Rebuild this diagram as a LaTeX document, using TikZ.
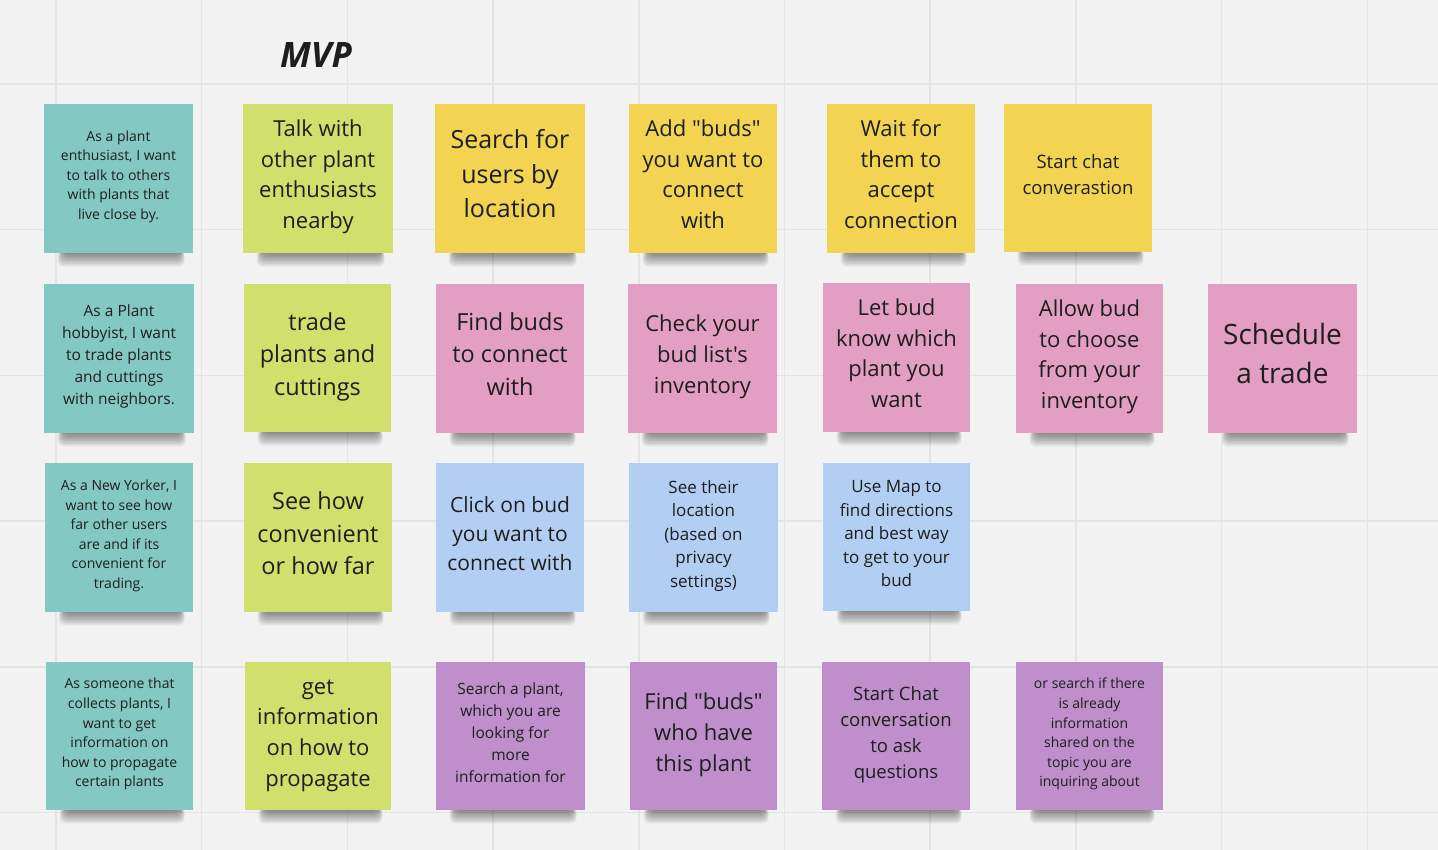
\documentclass[tikz,border=0pt]{standalone}
\usepackage{fontspec}
\setmainfont{Open Sans}
\newfontfamily\osans{Open Sans}
\definecolor{bg}{HTML}{F2F2F2}
\definecolor{gridc}{HTML}{E4E4E4}
\definecolor{ink}{HTML}{1E1E1E}
\definecolor{cteal}{HTML}{84C8C3}
\definecolor{clime}{HTML}{D1E06C}
\definecolor{cyel}{HTML}{F2D452}
\definecolor{cpink}{HTML}{E39FC3}
\definecolor{cblue}{HTML}{B2CEF2}
\definecolor{cpurp}{HTML}{BE8FCB}
\tikzset{
  notebox/.style={rectangle, inner sep=0pt, draw=none},
  notetext/.style={inner sep=0pt, align=center, text=ink},
  gridline/.style={draw=gridc, line width=1.5pt},
  shadowlayer/.style={fill=black, opacity=0.05, rounded corners=6pt}
}
% name, left, top, width, height, colour, size, leading, text
\newcommand\sticky[9]{%
  \foreach \i in {0,...,9} {
    \fill[shadowlayer] ({#2+20-\i*0.7},{#3+#5-4}) rectangle ({#2+#4-13+\i*0.5},{#3+#5+1+\i*1.4});
  }
  \node[notebox, fill=#6, minimum width=#4pt, minimum height=#5pt] (#1) at ({#2+#4/2},{#3+#5/2}) {};
  \node[notetext, font=\osans\fontsize{#7}{#8}\selectfont] (#1txt) at ([yshift=2pt]#1.center) {\strut #9\strut};%
}
\begin{document}
\begin{tikzpicture}[x=1pt, y=-1pt]
\fill[bg] (0,0) rectangle (1438,850);
\useasboundingbox (0,0) rectangle (1438,850);
\foreach \k in {0,...,9} { \draw[gridline] ({56+145.7*\k},0) -- ({56+145.7*\k},850); }
\foreach \k in {0,...,5} { \draw[gridline] (0,{84+145.7*\k}) -- (1438,{84+145.7*\k}); }

\node[text=ink, font=\osans\fontsize{35}{40}\selectfont\bfseries\itshape] (mvp) at (316,55) {MVP};

% Row 1
\sticky{t1}{44}{104}{149}{149}{cteal}{14}{19.5}{As a plant\\enthusiast, I want\\to talk to others\\with plants that\\live close by.}
\sticky{l1}{243}{104}{150}{149}{clime}{22}{30.7}{Talk with\\other plant\\enthusiasts\\nearby}
\sticky{y1}{435}{104}{150}{149}{cyel}{25}{34.5}{Search for\\users by\\location}
\sticky{y2}{629}{104}{148}{149}{cyel}{22}{30.7}{Add "buds"\\you want to\\connect\\with}
\sticky{y3}{827}{104}{148}{149}{cyel}{22}{30.7}{Wait for\\them to\\accept\\connection}
\sticky{y4}{1004}{104}{148}{148}{cyel}{18.5}{26}{Start chat\\converastion}

% Row 2
\sticky{t2}{44}{284}{150}{149}{cteal}{15.5}{22}{As a Plant\\hobbyist, I want\\to trade plants\\and cuttings\\with neighbors.}
\sticky{l2}{244}{284}{147}{148}{clime}{23.5}{32.5}{trade\\plants and\\cuttings}
\sticky{p1}{436}{284}{148}{149}{cpink}{23.5}{32.5}{Find buds\\to connect\\with}
\sticky{p2}{628}{284}{149}{149}{cpink}{22}{31}{Check your\\bud list's\\inventory}
\sticky{p3}{823}{283}{147}{149}{cpink}{22}{30.5}{Let bud\\know which\\plant you\\want}
\sticky{p4}{1016}{284}{147}{149}{cpink}{22}{30.5}{Allow bud\\to choose\\from your\\inventory}
\sticky{p5}{1208}{284}{149}{149}{cpink}{28}{39}{Schedule\\a trade}

% Row 3
\sticky{t3}{45}{463}{148}{149}{cteal}{14}{19.6}{As a New Yorker, I\\want to see how\\far other users\\are and if its\\convenient for\\trading.}
\sticky{l3}{244}{463}{148}{149}{clime}{23.5}{32.5}{See how\\convenient\\or how far}
\sticky{b1}{436}{463}{148}{149}{cblue}{21}{29}{Click on bud\\you want to\\connect with}
\sticky{b2}{629}{463}{149}{149}{cblue}{17}{23.5}{See their\\location\\(based on\\privacy\\settings)}
\sticky{b3}{823}{463}{147}{148}{cblue}{17}{23.5}{Use Map to\\find directions\\and best way\\to get to your\\bud}

% Row 4
\sticky{t4}{46}{662}{147}{148}{cteal}{14}{19.6}{As someone that\\collects plants, I\\want to get\\information on\\how to propagate\\certain plants}
\sticky{l4}{245}{662}{146}{148}{clime}{22}{30.7}{get\\information\\on how to\\propagate}
\sticky{u1}{436}{662}{149}{148}{cpurp}{15.5}{22}{Search a plant,\\which you are\\looking for\\more\\information for}
\sticky{u2}{630}{662}{147}{148}{cpurp}{22}{31}{Find "buds"\\who have\\this plant}
\sticky{u3}{822}{662}{148}{148}{cpurp}{18.5}{26}{Start Chat\\conversation\\to ask\\questions}
\sticky{u4}{1016}{662}{147}{148}{cpurp}{14}{19.6}{or search if there\\is already\\information\\shared on the\\topic you are\\inquiring about}
\end{tikzpicture}
\end{document}
